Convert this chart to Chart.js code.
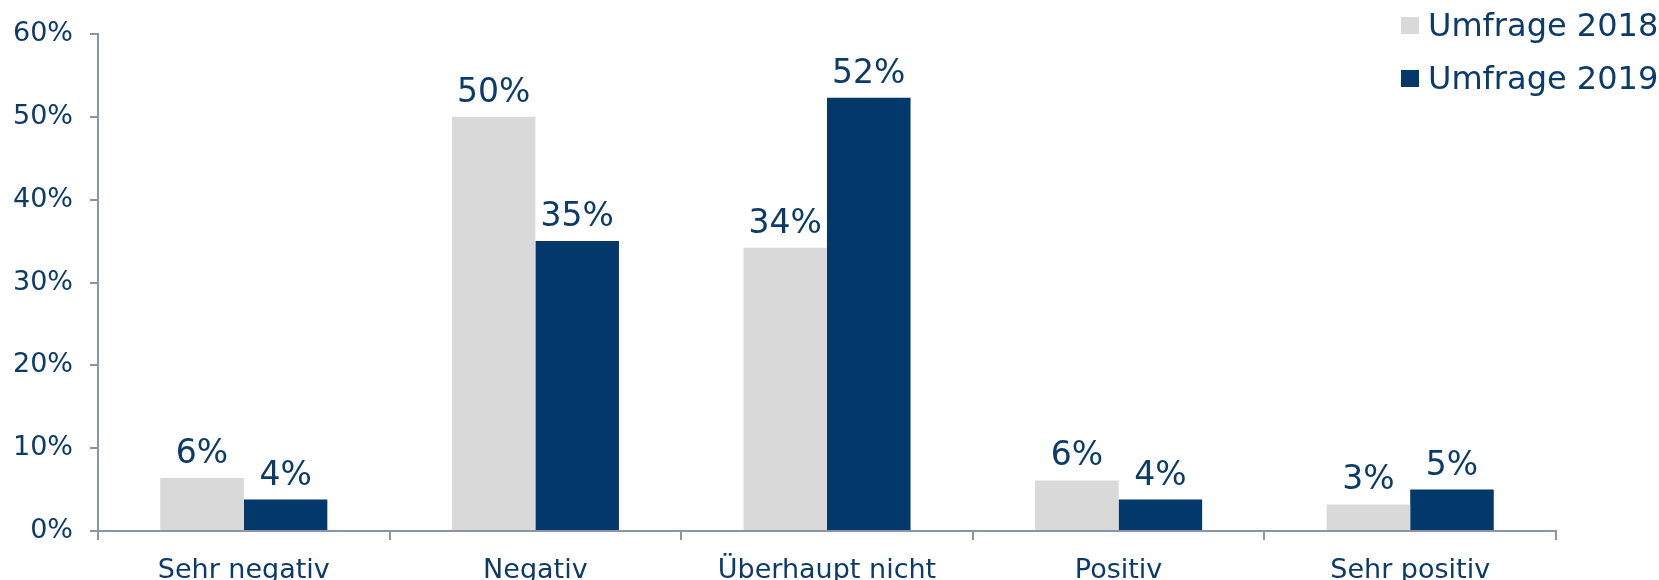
<!DOCTYPE html>
<html>
<head>
<meta charset="utf-8">
<script src="https://cdn.jsdelivr.net/npm/chart.js@4.4.1/dist/chart.umd.min.js"></script>
<style>
    html, body { margin: 0; padding: 0; background: #fff; overflow: hidden; }
    .wrap { position: relative; width: 1659px; height: 580px; overflow: hidden; }
    .canvas-box { position: absolute; left: 0; top: 0; width: 1659px; height: 600px; }
    .legend { position: absolute; left: 1401px; top: 9px; font-family: 'DejaVu Sans', sans-serif; font-size: 32px; line-height: 32px; color: #0c3b69; }
    .legend-item { position: relative; height: 53px; padding-left: 27px; white-space: nowrap; }
    .legend-item span { position: absolute; left: 0; top: 8px; width: 18px; height: 17px; }
</style>
</head>
<body>
<div class="wrap">
    <div class="canvas-box"><canvas id="surveyChart"></canvas></div>
    <div class="legend" id="legend"></div>
</div>
<script>
const categories = ['Sehr negativ', 'Negativ', 'Überhaupt nicht', 'Positiv', 'Sehr positiv'];
const seriesNames = ['Umfrage 2018', 'Umfrage 2019'];
const values2018 = [6.4, 50.0, 34.2, 6.1, 3.2];
const values2019 = [3.8, 35.0, 52.3, 3.8, 5.0];
const yTicks = [0, 10, 20, 30, 40, 50, 60];

const textColor = '#0c3b69';
const axisColor = '#8e94a6';
const colors = ['#d9d9d9', '#02386a'];

// Legend (HTML, built from series names)
const legendEl = document.getElementById('legend');
seriesNames.forEach((name, i) => {
    const item = document.createElement('div');
    item.className = 'legend-item';
    item.innerHTML = `<span style="background:${colors[i]}"></span>${name}`;
    legendEl.appendChild(item);
});

// Value labels above bars
const valueLabels = {
    id: 'valueLabels',
    afterDatasetsDraw(chart) {
        const ctx = chart.ctx;
        ctx.save();
        ctx.font = '33px "DejaVu Sans"';
        ctx.fillStyle = textColor;
        ctx.textAlign = 'center';
        ctx.textBaseline = 'alphabetic';
        chart.data.datasets.forEach((ds, i) => {
            chart.getDatasetMeta(i).data.forEach((bar, j) => {
                ctx.fillText(Math.round(ds.data[j]) + '%', bar.x, bar.y - 15);
            });
        });
        ctx.restore();
    }
};

const ctx = document.getElementById('surveyChart').getContext('2d');
new Chart(ctx, {
    type: 'bar',
    data: {
        labels: categories,
        datasets: [
            { label: seriesNames[0], data: values2018, backgroundColor: colors[0] },
            { label: seriesNames[1], data: values2019, backgroundColor: colors[1] }
        ]
    },
    options: {
        responsive: true,
        maintainAspectRatio: false,
        animation: false,
        categoryPercentage: 0.573,
        barPercentage: 1.0,
        layout: { padding: { left: 0, right: 103, top: 34, bottom: 0 } },
        plugins: {
            legend: { display: false },
            tooltip: { enabled: false }
        },
        scales: {
            x: {
                afterFit: (scale) => { scale.height = 69; },
                grid: {
                    offset: true,
                    drawOnChartArea: false,
                    drawTicks: true,
                    tickLength: 9,
                    color: axisColor,
                    lineWidth: 2
                },
                border: { color: axisColor, width: 2 },
                ticks: {
                    color: textColor,
                    font: { family: 'DejaVu Sans', size: 27 },
                    padding: 15,
                    maxRotation: 0
                }
            },
            y: {
                min: 0,
                max: 60,
                afterFit: (scale) => { scale.width = 98; },
                afterBuildTicks: (scale) => { scale.ticks = yTicks.map(v => ({ value: v })); },
                grid: {
                    drawOnChartArea: false,
                    drawTicks: true,
                    tickLength: 8,
                    color: axisColor,
                    lineWidth: 2
                },
                border: { color: axisColor, width: 2 },
                ticks: {
                    color: textColor,
                    font: { family: 'DejaVu Sans', size: 27 },
                    padding: 17,
                    callback: (v) => v + '%'
                }
            }
        }
    },
    plugins: [valueLabels]
});
</script>
</body>
</html>
